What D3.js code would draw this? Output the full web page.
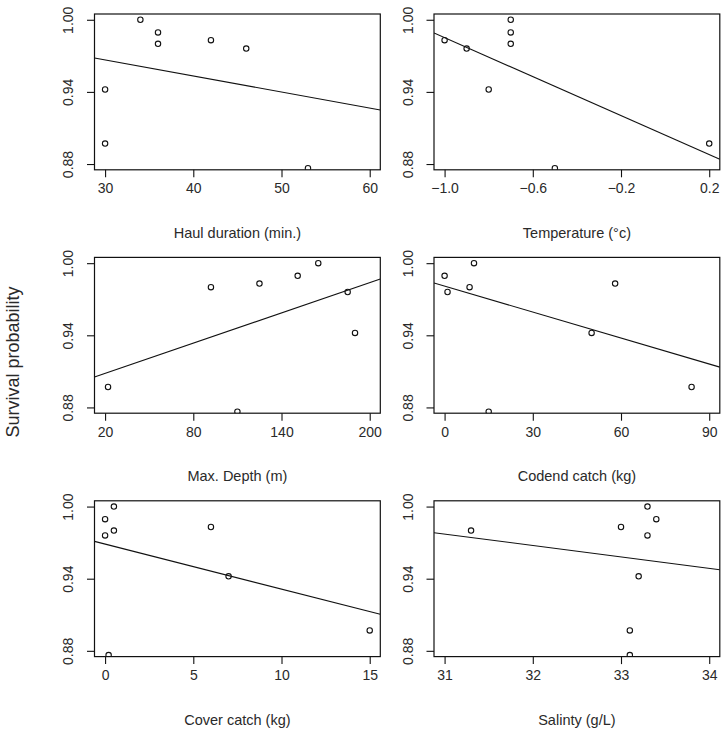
<!DOCTYPE html>
<html>
<head>
<meta charset="utf-8">
<script src="https://cdn.jsdelivr.net/npm/d3@7/dist/d3.min.js"></script>
<style>
  html, body { margin: 0; padding: 0; background: #fff; }
  svg { display: block; }
  text { font-family: "Liberation Sans", Arial, sans-serif; fill: #2a2a2a; }
</style>
</head>
<body>
<script>
// ---------------- data ----------------
const panelTitles = ["Haul duration (min.)", "Temperature (°c)", "Max. Depth (m)",
                     "Codend catch (kg)", "Cover catch (kg)", "Salinty (g/L)"];
const survival   = [1.000, 0.9895, 0.980, 0.983, 0.976, 0.942, 0.897, 0.8765];
const haulX      = [34, 36, 36, 42, 46, 30, 30, 53];
const tempX      = [-0.7, -0.7, -0.7, -1.0, -0.9, -0.8, 0.2, -0.5];
const depthX     = [165, 151, 92, 125, 185, 190, 22, 110];
const codendX    = [10, 0, 8.5, 58, 1, 50, 84, 15];
const coverX     = [0.5, 0, 0.5, 6, 0, 7, 15, 0.2];
const salinityX  = [33.3, 33.4, 31.3, 33.0, 33.3, 33.2, 33.1, 33.1];
const xLimits    = [[30, 60], [-1.0, 0.2], [20, 200], [0, 90], [0, 15], [31, 34]];
const xTicks     = [[30, 40, 50, 60], [-1.0, -0.6, -0.2, 0.2], [20, 80, 140, 200],
                    [0, 30, 60, 90], [0, 5, 10, 15], [31, 32, 33, 34]];
const xTickFmt   = [".0f", ".1f", ".0f", ".0f", ".0f", ".0f"];
// fitted line value at the low and high end of each x limit
const fitAtLo    = [0.9666, 0.9851, 0.9083, 0.9809, 0.9688, 0.9771];
const fitAtHi    = [0.9266, 0.8879, 0.9838, 0.9161, 0.9126, 0.9486];
const yLimits    = [0.88, 1.00];
const yTicks     = [0.88, 0.94, 1.00];
const yLabel     = "Survival probability";

const xSeries = [haulX, tempX, depthX, codendX, coverX, salinityX];

// ---------------- layout ----------------
const W = 725, H = 732;
const colLeft = [94.5, 434];
const rowTop  = [14, 257.4, 500.8];
const pw = 285.8, ph = 155.8;
const tickLen = 7.5;

const svg = d3.select("body").append("svg").attr("width", W).attr("height", H);

function ext(lim) { const r = lim[1] - lim[0]; return [lim[0] - 0.04 * r, lim[1] + 0.04 * r]; }

panelTitles.forEach((title, i) => {
  const col = i % 2, row = Math.floor(i / 2);
  const g = svg.append("g").attr("transform", `translate(${colLeft[col]},${rowTop[row]})`);
  const x = d3.scaleLinear().domain(ext(xLimits[i])).range([0, pw]);
  const y = d3.scaleLinear().domain(ext(yLimits)).range([ph, 0]);

  const clipId = "clip" + i;
  g.append("clipPath").attr("id", clipId).append("rect")
    .attr("x", 0).attr("y", 0).attr("width", pw).attr("height", ph);

  // x axis
  const xa = g.append("g").attr("transform", `translate(0,${ph})`)
    .call(d3.axisBottom(x).tickValues(xTicks[i]).tickFormat(d3.format(xTickFmt[i]))
      .tickSize(tickLen).tickPadding(6));
  xa.select(".domain").remove();
  xa.selectAll("line").attr("stroke", "#111").attr("stroke-width", 1.1);
  xa.selectAll("text").attr("font-size", "14px").attr("fill", "#2a2a2a")
    .attr("font-family", "Liberation Sans, Arial, sans-serif");

  // y axis
  const ya = g.append("g")
    .call(d3.axisLeft(y).tickValues(yTicks).tickFormat(d3.format(".2f"))
      .tickSize(tickLen).tickPadding(0));
  ya.select(".domain").remove();
  ya.selectAll("line").attr("stroke", "#111").attr("stroke-width", 1.1);
  ya.selectAll("text").attr("font-size", "14px").attr("fill", "#2a2a2a")
    .attr("font-family", "Liberation Sans, Arial, sans-serif")
    .attr("text-anchor", "middle").attr("x", null)
    .attr("transform", "translate(-26,0) rotate(-90)")
    .attr("dy", "0.35em");

  // fitted line (value interpolated from the two fitted end values)
  const fit = d3.scaleLinear().domain(xLimits[i]).range([fitAtLo[i], fitAtHi[i]]);
  const [d0, d1] = x.domain();
  g.append("line").attr("clip-path", `url(#${clipId})`)
    .attr("x1", x(d0)).attr("x2", x(d1))
    .attr("y1", y(fit(d0))).attr("y2", y(fit(d1)))
    .attr("stroke", "#111").attr("stroke-width", 1.1);

  // points
  g.append("g").attr("clip-path", `url(#${clipId})`)
    .selectAll("circle").data(xSeries[i].map((v, k) => [v, survival[k]]))
    .join("circle")
    .attr("cx", d => x(d[0])).attr("cy", d => y(d[1])).attr("r", 2.7)
    .attr("fill", "none").attr("stroke", "#111").attr("stroke-width", 1.1);

  // box
  g.append("rect").attr("x", 0).attr("y", 0).attr("width", pw).attr("height", ph)
    .attr("fill", "none").attr("stroke", "#111").attr("stroke-width", 1.2);

  // axis title
  g.append("text").attr("x", pw / 2).attr("y", ph + 63).attr("dy", "0.35em")
    .attr("text-anchor", "middle").attr("font-size", "14.5px").text(title);
});

svg.append("text").attr("transform", "translate(13,362) rotate(-90)")
  .attr("text-anchor", "middle").attr("dy", "0.35em")
  .attr("font-size", "18px").text(yLabel);
</script>
</body>
</html>
